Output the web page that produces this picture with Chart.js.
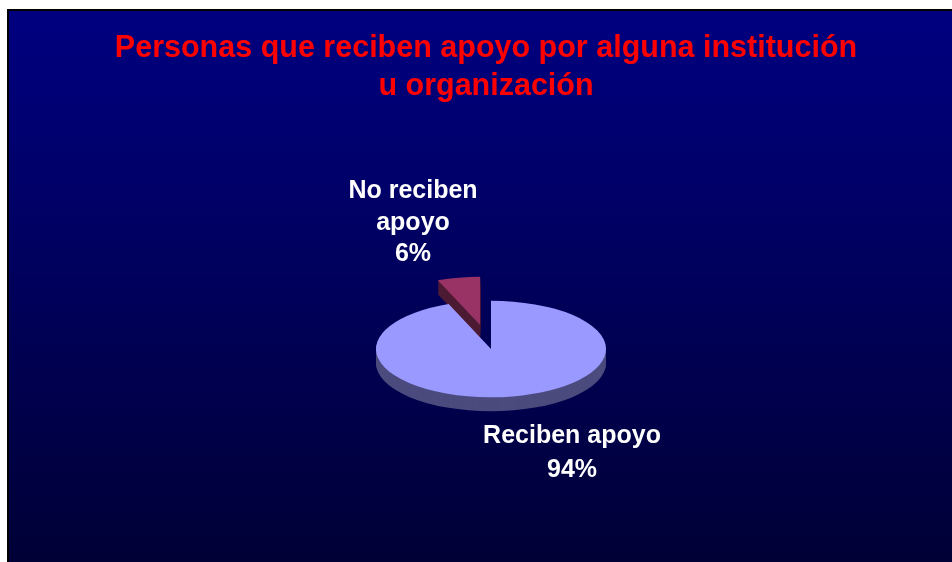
<!DOCTYPE html>
<html><head><meta charset="utf-8">
<script src="https://cdn.jsdelivr.net/npm/chart.js@4.4.1/dist/chart.umd.min.js"></script>
<style>html,body{margin:0;padding:0;background:#fff;overflow:hidden;} canvas{display:block;}</style>
</head><body>
<canvas id="c" width="952" height="562"></canvas>
<script>
// ---- data ----
const titleLines = ['Personas que reciben apoyo por alguna institución', 'u organización'];
const categories = ['Reciben apoyo', 'No reciben apoyo'];
const labelLines = [['Reciben apoyo'], ['No reciben', 'apoyo']];
const percentages = [94, 6];

// ---- style ----
const topColors = ['#9999FF', '#993366'];
const sideColors = ['#4B4B7E', '#4C1A33'];
const explodePx = [0, 58];
const TILT = 0.42, DEPTH = 14;
const labelAnchors = [{x: 572, y: 443, lh: 33.5}, {x: 413, y: 198, lh: 31.7}];
const FONT = '"Liberation Sans", Arial, sans-serif';

const pie3d = {
  id: 'pie3d',
  beforeDraw(chart) {
    const ctx = chart.ctx;
    ctx.save();
    ctx.fillStyle = '#000';
    ctx.fillRect(7, 9, 945, 553);
    const g = ctx.createLinearGradient(0, 11, 0, 562);
    g.addColorStop(0, '#000080');
    g.addColorStop(1, '#000036');
    ctx.fillStyle = g;
    ctx.fillRect(9, 11, 943, 551);
    ctx.restore();
  },
  beforeDatasetsDraw(chart) {
    const ctx = chart.ctx;
    const arcs = chart.getDatasetMeta(0).data;
    const setT = (el, i, dy) => {
      ctx.translate(0, dy);
      ctx.translate(0, el.y); ctx.scale(1, TILT); ctx.translate(0, -el.y);
      const mid = (el.startAngle + el.endAngle) / 2;
      ctx.translate(Math.cos(mid) * explodePx[i], Math.sin(mid) * explodePx[i]);
    };
    arcs.forEach((el, i) => {
      for (let d = DEPTH; d >= 1; d--) {
        ctx.save();
        setT(el, i, d);
        ctx.beginPath();
        ctx.moveTo(el.x, el.y);
        ctx.arc(el.x, el.y, el.outerRadius, el.startAngle, el.endAngle);
        ctx.closePath();
        ctx.fillStyle = sideColors[i];
        ctx.fill();
        ctx.restore();
      }
    });
    arcs.forEach((el, i) => {
      ctx.save();
      setT(el, i, 0);
      el.draw(ctx);
      ctx.restore();
    });
    return false;
  },
  afterDraw(chart) {
    const ctx = chart.ctx;
    ctx.save();
    ctx.textAlign = 'center';
    ctx.textBaseline = 'alphabetic';
    ctx.fillStyle = '#FF0000';
    ctx.font = 'bold 30.5px ' + FONT;
    titleLines.forEach((t, j) => ctx.fillText(t, 486, 57 + j * 38));
    ctx.fillStyle = '#FFFFFF';
    ctx.font = 'bold 25px ' + FONT;
    labelLines.forEach((lines, i) => {
      const a = labelAnchors[i];
      const all = lines.concat([percentages[i] + '%']);
      all.forEach((t, j) => ctx.fillText(t, a.x, a.y + j * a.lh));
    });
    ctx.restore();
  }
};

new Chart(document.getElementById('c'), {
  type: 'pie',
  data: {
    labels: categories,
    datasets: [{
      data: percentages,
      backgroundColor: topColors,
      borderWidth: 0
    }]
  },
  options: {
    responsive: false,
    animation: false,
    radius: 115,
    layout: {padding: {left: 30, right: 0, top: 136, bottom: 0}},
    plugins: {legend: {display: false}, tooltip: {enabled: false}, title: {display: false}}
  },
  plugins: [pie3d]
});
</script>
</body></html>
